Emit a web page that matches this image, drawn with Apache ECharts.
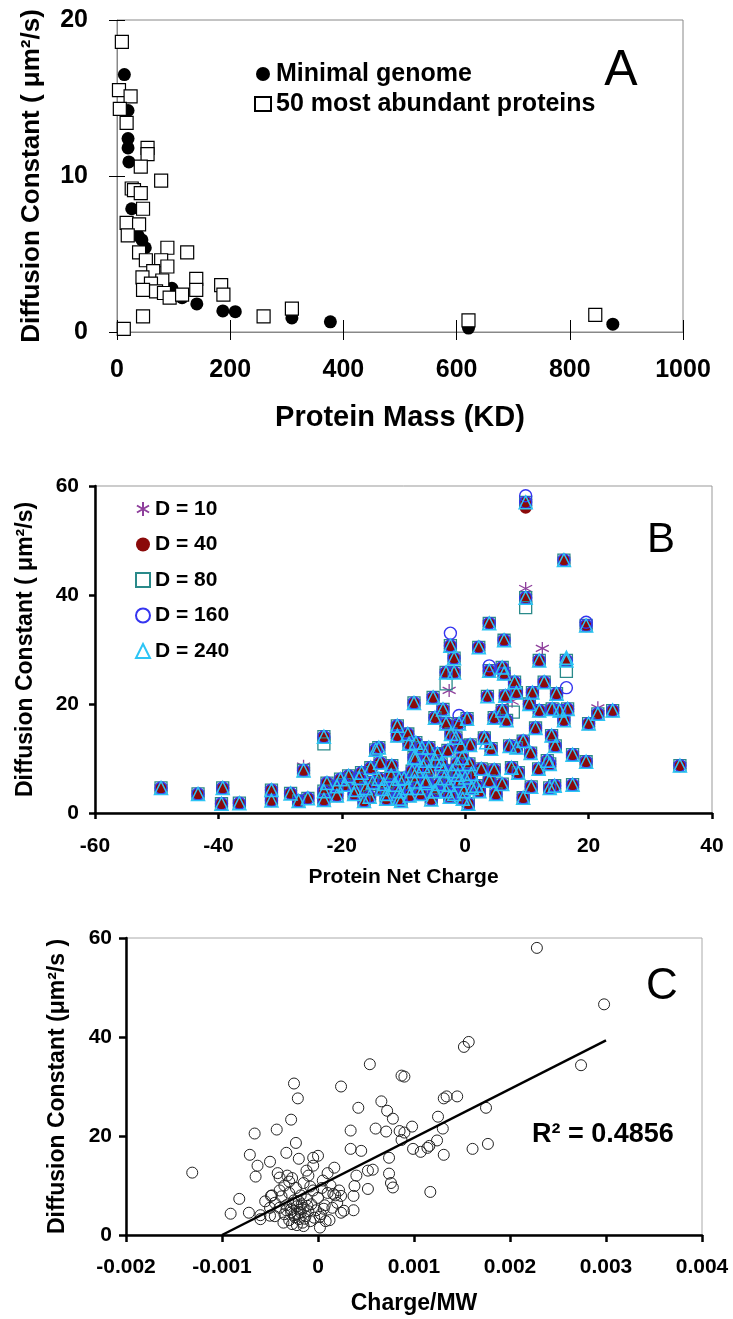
<!DOCTYPE html>
<html>
<head>
<meta charset="utf-8">
<title>Diffusion constant vs protein properties</title>
<script src="https://cdn.jsdelivr.net/npm/echarts@6.0.0/dist/echarts.min.js"></script>
<style>
  html, body { margin: 0; padding: 0; background: #fff; }
  #chart { width: 733px; height: 1319px; }
</style>
</head>
<body>
<div id="chart"></div>
<script>
  const FONT = '"Liberation Sans", Arial, sans-serif';

  // ---- panel A: diffusion constant vs protein mass
  const minimalMass = [13, 19.5, 19.5, 19.5, 21, 26, 37, 44, 50, 97, 115, 141, 187, 209, 309, 377, 621, 876];
  const minimalD = [16.5, 14.2, 12.4, 11.8, 10.9, 7.9, 6.2, 5.9, 5.4, 2.8, 2.2, 1.8, 1.35, 1.3, 0.9, 0.65, 0.25, 0.5];
  const abundantMass = [8.6, 3.5, 24, 5, 17, 54, 54, 42, 78, 26, 30, 42, 46, 17, 39, 19, 39, 89, 124, 51,
    78, 64, 89, 45, 80, 140, 60, 46, 69, 83, 93, 115, 140, 184, 188, 46, 12, 259, 309, 621, 845];
  const abundantD = [18.6, 15.5, 15.1, 14.3, 13.4, 11.8, 11.4, 10.6, 9.7, 9.2, 9.1, 8.9, 7.9, 7.0, 6.9, 6.2, 5.1, 5.4, 5.1, 4.6,
    4.6, 3.9, 4.2, 3.5, 3.3, 3.4, 3.1, 2.7, 2.6, 2.5, 2.2, 2.4, 2.7, 3.0, 2.4, 1.0, 0.2, 1.0, 1.5, 0.75, 1.1];

  // ---- panel B: diffusion constant vs net charge, one point per protein (shared by all D runs)
  const netCharge = [9.8, 16, 9.8, 19.6, 3.9, -2.4, 2.2, 6.3, -1.8, -3.1, -1.8, 3.9, 6, 6.3, 12, 16.4, 8, 12.8,
    -8.3, -5.2, -3.6, 3.6, 6.5, 8.3, 10.9, 14.8, 10.4, 12, 14.1, 15.3, 16.6, 16, 21.5, 20, 23.9, 4.7, 6, 6.7,
    -4.9, -3.1, -1, 0.3, -11, -11, -9.3, -8, -9.1, 11.4, 14, 14.6, 9.4, 7.2, 8.3, 4.2, 3.1, 10.6, 17.4, 19.6,
    34.8, 13.3, 13.7, 7.5, 8.6, 11.9, 4.7, 2.6, 3.9, 6, 5, 10.7, 13.7, 14.5, 17.4, 9.4, 0.5, 2.3,
    -49.3, -43.3, -39.3, -39.5, -36.6, -31.4, -31.4, -28.3, -27, -25.5, -26.2, -22.9, -22.9, -22.9, -22.4,
    -20.8, -20.8, -14.5, -15.3, -11.9,
    -18.9, -18, -17.2, -16.1, -16.4, -14, -13.5, -12.8, -10.4, -9.9, -9.4, -8.3, -7.8, -7.2, -6.4, -5.9,
    -4.8, -4.8, -14, -13.2, -10.7, -10.7, -8, -8.6, -7.8, -7, -6.3, -5.9, -6.3, -5, -4.5, -3.9, -3.4, -3.1,
    -2.3, -1.5, -0.7, -0.5, -1.3, -2.1, -1, -0.2, -1.8, 0.6, 1, 1.1, 1.8, -12.8, -10.7, -19.5, -17.8, -15.5,
    -15, -12, -11.5, -9, -8.2, -6.8, -5.5, -4.2, -3.6, -2.6, -2.8, -1.2, 0, -0.4, 0.8, -2.5, -13.8, -16.8, -20.2];
  const diffB = [57, 46.4, 39.5, 34.4, 34.8, 30.7, 30.4, 31.7, 28.4, 25.8, 25.8, 26.1, 26.7, 25.6, 28, 28, 24, 24,
    20.2, 21.2, 19, 21.4, 21.5, 22.1, 22.1, 21.9, 20, 18.8, 19.1, 18.8, 19.1, 17, 18.2, 16.4, 18.8, 17.5, 18.8, 17,
    17.5, 16.4, 16.4, 17.3, 16, 14.2, 14.5, 12.9, 12.7, 15.6, 14.2, 12.3, 13.2, 12.3, 12, 11.8, 13.8, 11, 10.7, 9.4,
    8.7, 9.6, 9, 8.3, 7.4, 8.1, 7.9, 8.1, 5.9, 5.3, 3.5, 4.8, 4.6, 5, 5.2, 2.8, 1.7, 4,
    4.6, 3.5, 4.6, 1.7, 1.8, 4.2, 2.3, 3.6, 2.2, 2.7, 7.8, 14, 4, 2.4, 5.5,
    4.9, 3.2, 11.6, 8.3, 8.7,
    6.8, 3.5, 6.4, 4.6, 2.2, 6.3, 4.4, 2.6, 2.2, 6.4, 4.6, 10.2, 7.7, 3.5, 5.5, 12,
    9.6, 4, 12, 5.3, 6.3, 2.6, 10.1, 7.7, 4.6, 12, 9.6, 7.7, 5.9, 4, 10.9, 9, 6.4, 4,
    14.5, 13.8, 12.3, 10.1, 9, 7.7, 5.9, 4, 3.5, 9, 7.2, 4.6, 5, 3.5, 4, 5.2, 4.2, 3.0,
    5.6, 6.9, 5.2, 3.2, 5.8, 8.6, 2.5, 5.3, 7.8, 5.2, 11.5, 7.0, 6.5, 2.6, 12.5, 3.0, 9.2, 7.4, 6.2];
  // proteins where one run lands visibly apart from the others
  const extraD10 = [[12.5, 30.2], [9.8, 41.2], [21.5, 19.3], [-2.6, 22.5], [7.6, 20.5], [-26.2, 8.6]];
  const extraD40 = [[9.8, 56]];
  const extraD80 = [[16.4, 26], [-3.1, 23.7], [-22.9, 12.7], [9.8, 37.7], [7.8, 18.5]];
  const extraD160 = [[16.4, 23], [-2.4, 33], [9.8, 58.2], [-1, 17.9], [19.6, 35], [3.9, 27]];
  const extraD240 = [[16.4, 28.5], [3.4, 13]];
  const runNames = ["D = 10", "D = 40", "D = 80", "D = 160", "D = 240"];

  // ---- panel C: diffusion constant vs charge/MW
  const chargeMW = [-0.00131, -0.00091, -0.00082, -0.00072, -0.00071, -0.00066, -0.00063, -0.00065, -0.0006, -0.0005,
    -0.0005, -0.00049, -0.00043, -0.0004, -0.00033, -0.00028, -0.00025, -0.00021, -0.00023, -0.0002, -0.00005, 0,
    0.00017, 0.00024, 0.00042, 0.00034, 0.00034, 0.00045, 0.00054, 0.00066, 0.00072, 0.00078, 0.0006, 0.00071,
    0.00052, 0.00057, 0.00052, 0.00037, 0.00038, 0.0004, 0.00037, 0.00024, 0.00027, 0.00024, 0.00074, 0.00074,
    0.00076, 0.00078, 0.00085, 0.00087, 0.00228, 0.00298, 0.00274, 0.00152, 0.00157, 0.0009, 0.00131, 0.00134,
    0.00145, 0.00175, 0.00125, 0.0013, 0.00098, 0.0009, 0.00087, 0.00124, 0.00116, 0.00114, 0.00099, 0.00107,
    0.00131, 0.00161, 0.00177, 0.00117,
    -0.00045, -0.0004, -0.00038, -0.00035, -0.00033, -0.0003, -0.0003, -0.00028, -0.00027, -0.00025, -0.00025,
    -0.00023, -0.00022, -0.0002, -0.0002, -0.00018, -0.00018, -0.00016, -0.00015, -0.00015, -0.00013, -0.00012,
    -0.0001, -0.0001, -0.00008, -0.00007, -0.00005, -0.00004, -0.00002, 0, 0.00002, 0.00003, 0.00005, 0.00007,
    0.0001, 0.00012, 0.00015, 0.00018, -0.00035, -0.00042, -0.00048, -0.0005, -0.00055, -0.0006, -0.00027,
    -0.00032, -0.00012, -0.00005, 0.0001, -0.00022, -0.00036, -0.00015, -0.00008, -0.0003, 0.00004, 0.00008,
    -0.0004, -0.00045, -0.00024, -0.00017, -0.00028, -0.00019, -0.00026, -0.00021, -0.00011, -0.00014, -0.00033,
    0.00002, 0.00006, 0.0002, 0.00022, 0.00013, 0.00016];
  const diffC = [12.6, 4.3, 7.3, 4.5, 16.2, 20.5, 14.0, 11.8, 3.2, 14.8,
    3.9, 7.9, 21.3, 11.6, 16.6, 23.3, 30.6, 27.6, 18.6, 15.4, 15.6, 16.0,
    13.6, 30, 25.7, 21.1, 17.4, 17, 34.5, 27, 25.1, 23.5, 21.5, 20.9,
    13.0, 13.2, 9.3, 7.9, 9.9, 12, 5.0, 7.9, 4.9, 4.5, 15.6, 12.4,
    10.5, 9.6, 21, 32.2, 58, 46.6, 34.3, 38, 39, 32, 27.6, 28,
    28, 25.7, 23.9, 21.5, 21.9, 20.7, 19.2, 19.1, 18, 17.6, 17.4, 16.8,
    16.2, 17.4, 18.4, 8.7,
    6.5, 5.5, 7.8, 4.2, 6.0, 3.0, 8.5, 5.2, 2.2, 7.0, 4.0,
    9.5, 5.8, 3.2, 6.8, 4.5, 8.0, 2.5, 5.5, 10.5, 3.8, 7.2,
    4.8, 12.0, 2.8, 6.2, 9.0, 3.5, 5.0, 7.5, 1.5, 4.2, 11.0, 6.0,
    8.5, 3.0, 5.5, 8.0, 10.0, 12.5, 8.0, 5.5, 6.8, 4.0, 11.5,
    12.0, 13.0, 14.0, 12.5, 2.0, 2.5, 1.8, 9.8, 10.8, 9.5, 2.8,
    9.0, 3.8, 3.6, 6.2, 4.6, 5.1, 6.4, 4.3, 5.9, 3.3, 5.0,
    3.7, 5.3, 6.5, 9.0, 10.0, 8.3];
  const fitLineX = [-0.001, 0.003];
  const fitLineY = [0, 39.3];

  const zip = (xs, ys) => xs.map((x, i) => [x, ys[i]]);
  const basePoints = zip(netCharge, diffB);

  const chart = echarts.init(document.getElementById("chart"));

  const boldLabel = (size) => ({ color: "#000", fontFamily: FONT, fontWeight: "bold", fontSize: size });
  const thickAxis = { onZero: false, lineStyle: { color: "#000", width: 2.5 } };
  const plain = (v) => String(Math.round(v * 1000) / 1000);

  const option = {
    backgroundColor: "#fff",
    animation: false,
    textStyle: { fontFamily: FONT },
    grid: [
      { left: 117, top: 20, width: 566, height: 312, show: true, borderColor: "#888", borderWidth: 1 },
      { left: 95, top: 486, width: 617, height: 327, show: true, borderColor: "#999", borderWidth: 1 },
      { left: 126, top: 938, width: 576, height: 297, show: true, borderColor: "#aaa", borderWidth: 1 },
    ],
    legend: [
      {
        orient: "vertical", left: 254, top: 59, padding: 0, itemGap: 0,
        itemWidth: 16, itemHeight: 14, selectedMode: false,
        textStyle: { ...boldLabel(25), lineHeight: 30 },
        data: ["Minimal genome", "50 most abundant proteins"],
      },
      {
        orient: "vertical", left: 135, top: 496, padding: 0, itemGap: 9.5,
        itemWidth: 14, itemHeight: 14, selectedMode: false,
        textStyle: { ...boldLabel(21), lineHeight: 26 },
        data: runNames,
      },
    ],
    xAxis: [
      {
        gridIndex: 0, type: "value", min: 0, max: 1000, interval: 200,
        name: "Protein Mass (KD)", nameLocation: "middle", nameGap: 71,
        nameTextStyle: boldLabel(29),
        axisLine: { onZero: false, lineStyle: { color: "#888", width: 1 } },
        axisTick: { length: 8, lineStyle: { color: "#000" } },
        axisLabel: { ...boldLabel(25), margin: 26, formatter: plain },
        splitLine: { show: false },
      },
      {
        gridIndex: 0, type: "value", position: "bottom", min: 0, max: 1000, interval: 200,
        axisLine: { show: false, onZero: false }, axisLabel: { show: false }, splitLine: { show: false },
        axisTick: { inside: true, length: 12, lineStyle: { color: "#000" } },
      },
      {
        gridIndex: 1, type: "value", min: -60, max: 40, interval: 20,
        name: "Protein Net Charge", nameLocation: "middle", nameGap: 54,
        nameTextStyle: boldLabel(21),
        axisLine: thickAxis,
        axisTick: { length: 6, lineStyle: { color: "#000", width: 2.5 } },
        axisLabel: { ...boldLabel(21), margin: 23 },
        splitLine: { show: false },
      },
      {
        gridIndex: 2, type: "value", min: -0.002, max: 0.004, interval: 0.001,
        name: "Charge/MW", nameLocation: "middle", nameGap: 57,
        nameTextStyle: boldLabel(23),
        axisLine: thickAxis,
        axisTick: { length: 7, lineStyle: { color: "#000", width: 2.5 } },
        axisLabel: { ...boldLabel(21), margin: 22, formatter: plain },
        splitLine: { show: false },
      },
    ],
    yAxis: [
      {
        gridIndex: 0, type: "value", min: 0, max: 20, interval: 10,
        name: "Diffusion Constant ( μm²/s)", nameLocation: "middle", nameGap: 72,
        nameTextStyle: boldLabel(26),
        axisLine: { onZero: false, lineStyle: { color: "#888", width: 1 } },
        axisTick: { length: 8, lineStyle: { color: "#000" } },
        axisLabel: { ...boldLabel(25), margin: 29 },
        splitLine: { show: false },
      },
      {
        gridIndex: 0, type: "value", position: "left", min: 0, max: 20, interval: 10,
        axisLine: { show: false, onZero: false }, axisLabel: { show: false }, splitLine: { show: false },
        axisTick: { inside: true, length: 8, lineStyle: { color: "#000" } },
      },
      {
        gridIndex: 1, type: "value", min: 0, max: 60, interval: 20,
        name: "Diffusion Constant ( μm²/s)", nameLocation: "middle", nameGap: 58,
        nameTextStyle: boldLabel(23),
        axisLine: thickAxis,
        axisTick: { length: 6, lineStyle: { color: "#000", width: 2.5 } },
        axisLabel: { ...boldLabel(21), margin: 16 },
        splitLine: { show: false },
      },
      {
        gridIndex: 2, type: "value", min: 0, max: 60, interval: 20,
        name: "Diffusion Constant (μm²/s )", nameLocation: "middle", nameGap: 57,
        nameTextStyle: boldLabel(23),
        axisLine: thickAxis,
        axisTick: { length: 7, lineStyle: { color: "#000", width: 2.5 } },
        axisLabel: { ...boldLabel(21), margin: 14 },
        splitLine: { show: false },
      },
    ],
    series: [
      {
        name: "Minimal genome", type: "scatter", xAxisIndex: 0, yAxisIndex: 0,
        symbol: "circle", symbolSize: 13,
        itemStyle: { color: "#000", opacity: 1 },
        data: zip(minimalMass, minimalD),
      },
      {
        name: "50 most abundant proteins", type: "scatter", xAxisIndex: 0, yAxisIndex: 0,
        symbol: "rect", symbolSize: 13,
        itemStyle: { color: "#fff", borderColor: "#000", borderWidth: 1.2, opacity: 1 },
        data: zip(abundantMass, abundantD),
      },
      {
        name: "D = 10", type: "scatter", xAxisIndex: 2, yAxisIndex: 2,
        symbol: "path://M5,0L5,10M0.67,2.5L9.33,7.5M0.67,7.5L9.33,2.5", symbolSize: 13,
        itemStyle: { color: "rgba(0,0,0,0)", borderColor: "#8e3f9c", borderWidth: 1.3, opacity: 1 },
        data: basePoints.concat(extraD10),
      },
      {
        name: "D = 40", type: "scatter", xAxisIndex: 2, yAxisIndex: 2,
        symbol: "circle", symbolSize: 12,
        itemStyle: { color: "#8b0a0a", opacity: 1 },
        data: basePoints.concat(extraD40),
      },
      {
        name: "D = 80", type: "scatter", xAxisIndex: 2, yAxisIndex: 2,
        symbol: "rect", symbolSize: 12,
        itemStyle: { color: "rgba(0,0,0,0)", borderColor: "#2a8a8a", borderWidth: 1.3, opacity: 1 },
        data: basePoints.concat(extraD80),
      },
      {
        name: "D = 160", type: "scatter", xAxisIndex: 2, yAxisIndex: 2,
        symbol: "circle", symbolSize: 12,
        itemStyle: { color: "rgba(0,0,0,0)", borderColor: "#3535f0", borderWidth: 1.4, opacity: 1 },
        data: basePoints.concat(extraD160),
      },
      {
        name: "D = 240", type: "scatter", xAxisIndex: 2, yAxisIndex: 2,
        symbol: "triangle", symbolSize: 13,
        itemStyle: { color: "rgba(0,0,0,0)", borderColor: "#2cc4f5", borderWidth: 1.5, opacity: 1 },
        data: basePoints.concat(extraD240),
      },
      {
        name: "Charge/MW", type: "scatter", xAxisIndex: 3, yAxisIndex: 3,
        symbol: "circle", symbolSize: 11,
        itemStyle: { color: "rgba(0,0,0,0)", borderColor: "#222", borderWidth: 1, opacity: 1 },
        data: zip(chargeMW, diffC),
      },
      {
        name: "Linear fit", type: "line", xAxisIndex: 3, yAxisIndex: 3,
        symbol: "none", lineStyle: { color: "#000", width: 2.5 },
        data: zip(fitLineX, fitLineY),
      },
    ],
    graphic: [
      { type: "text", x: 621, y: 71, style: { text: "A", font: "50px " + FONT, fill: "#000", align: "center", verticalAlign: "middle" } },
      { type: "text", x: 661, y: 540, style: { text: "B", font: "42px " + FONT, fill: "#000", align: "center", verticalAlign: "middle" } },
      { type: "text", x: 662, y: 987, style: { text: "C", font: "44px " + FONT, fill: "#000", align: "center", verticalAlign: "middle" } },
      { type: "text", x: 532, y: 1135, style: { text: "R² = 0.4856", font: "bold 27px " + FONT, fill: "#000", align: "left", verticalAlign: "middle" } },
    ],
  };

  chart.setOption(option);
</script>
</body>
</html>
